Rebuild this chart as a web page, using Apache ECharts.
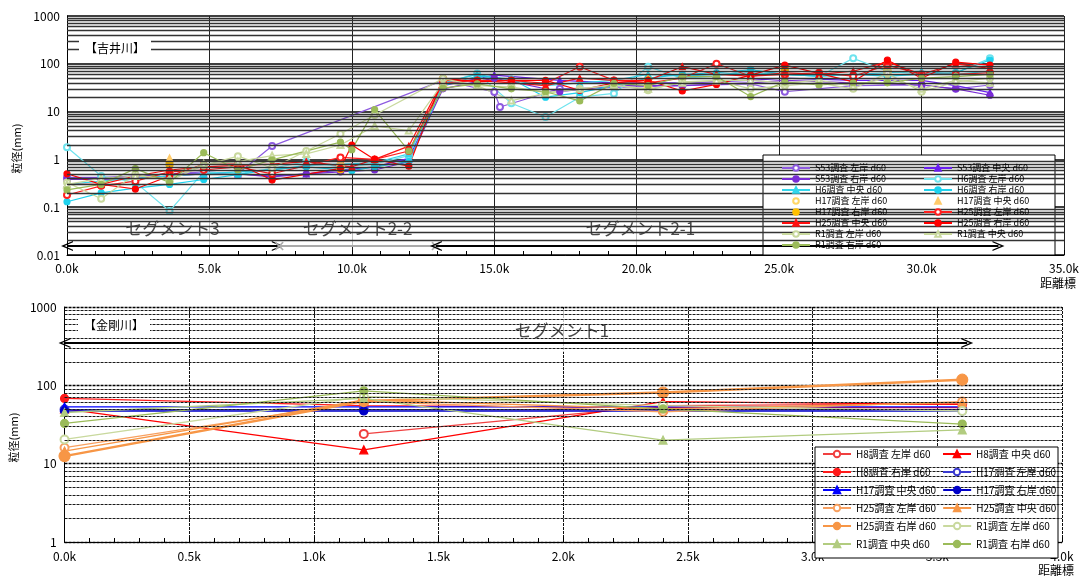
<!DOCTYPE html>
<html>
<head>
<meta charset="utf-8">
<script src="https://cdn.jsdelivr.net/npm/echarts@6/dist/echarts.min.js"></script>
<style>
  html, body { margin: 0; padding: 0; background: #fff; }
  #chart { width: 1082px; height: 578px; }
</style>
</head>
<body>
<div id="chart"></div>
<script>
// ---------- 吉井川 (upper panel) ----------
// survey stations, distance in metres
const yoshiiKm = [0, 1200, 2400, 3600, 4800, 6000, 7200, 8400, 9600, 10000, 10800, 12000,
  13200, 14400, 15600, 16800, 18000, 19200, 20400, 21600, 22800, 24000, 25200, 26400,
  27600, 28800, 30000, 31200, 32400];
// S53 survey used its own station set
const s53Km = [0, 1200, 2400, 3600, 4800, 6000, 7200, 8400, 9600, 10800, 12000, 13200,
  15000, 15200, 17300, 19200, 21600, 24000, 25200, 27600, 30000, 31200, 32400];

// d60 (mm)
const s53Left  = [0.42, 0.42, 0.45, 0.5, 0.55, 0.5, 1.9, null, null, null, null, 45, 25.7, 12.5, 30, 32, 35, 38, 26, 35, 36, 30, 36];
const s53Mid   = [0.4, 0.4, 0.45, 0.5, 0.5, 0.5, 0.45, 0.5, 0.6, 0.7, 1.05, 35, 58, null, 45, 40, 40, 45, 50, 45, 45, 35, 25];
const s53Right = [0.38, 0.38, 0.4, 0.45, 0.5, 0.5, 0.43, 0.5, 0.55, 0.6, 0.9, 30, 50, null, 26, 35, 35, 40, 45, 40, 36, 30, 22];

const h6Left  = [1.8, 0.45, 0.33, 0.083, 0.55, 0.5, 0.65, 0.9, 0.7, null, 0.8, 1.2, 38, 63, 15, 7.7, 20, 24, 87, 50, 55, 75, 60, 55, 130, 70, 60, 65, 130];
const h6Mid   = [0.3, 0.35, 0.4, 0.45, 0.5, 0.55, 0.6, 0.75, 0.8, null, 0.85, 1.3, 40, 60, 45, 35, 40, 45, 60, 55, 60, 65, 60, 55, 60, 65, 70, 60, 70];
const h6Right = [0.13, 0.2, 0.25, 0.3, 0.38, 0.48, 0.62, 0.7, null, 0.58, 0.7, 0.9, 35, 55, 48, 20, 25, 35, 50, 60, 65, 75, 60, 55, 60, 55, 60, 65, 120];

const h17Left  = [null, null, null, 0.55, null, null, null, null, 0.75, null, null, null, 48, null, null, null, null, null, 32, null, null, null, 60, null, null, 70, null, null, null];
const h17Mid   = [null, null, null, 1.05, null, null, null, null, 0.85, null, null, null, 42, null, null, null, null, null, 50, null, null, null, 85, null, null, 100, null, null, null];
const h17Right = [null, null, null, 0.78, null, null, null, null, 0.62, null, null, null, 36, null, null, null, null, null, 45, null, null, null, 78, null, null, 92, null, null, null];

const h25Left  = [0.18, 0.28, 0.35, 0.55, 0.6, 0.7, 0.5, null, 1.1, null, 1.0, 1.5, 40, 45, 45, 39, 87, 45, 40, 50, 100, 55, 60, 65, 55, 94, 60, 60, 65];
const h25Mid   = [0.3, 0.3, 0.45, 0.6, 0.7, 0.75, 0.8, 0.9, null, 0.7, 1.0, 1.9, 45, 45, 40, 35, 50, 45, 45, 87, 60, 55, 65, 60, 70, 110, 60, 100, 80];
const h25Right = [0.5, 0.3, 0.24, 0.45, 0.79, 0.8, 0.37, null, 0.65, 2.0, 1.0, 0.72, 50, 42, 45, 45, 28, 40, 45, 27, 37, 58, 94, 63, 42, 120, 50, 108, 94];

const r1Left  = [0.33, 0.15, 0.49, 0.36, 0.75, 1.17, 0.66, 1.5, 3.4, null, 8.5, null, 49, 35, 33, 25, 30, 36, 28, 42, 45, 30, 35, 40, 30, 63, 26, 42, 50];
const r1Mid   = [0.3, 0.4, 0.45, 0.4, 0.8, 0.9, 1.2, 1.3, 2.0, null, 5.0, 4.0, 40, 35, 17, 24, 30, 36, 30, 40, 45, 45, 40, 45, 35, 50, 30, 45, 40];
const r1Right = [0.23, 0.3, 0.64, 0.33, 1.38, 0.6, 0.98, null, 2.3, 1.6, 11, 1.5, 31, 38, 30, 26, 16.7, 39, 35, 54, 54, 20.6, 42, 36, 40, 40, 50, 54, 60];

// ---------- 金剛川 (lower panel) ----------
const kongoKm = [0, 1200, 2400, 3600];
const kH8Left   = [null, 24, 55, 58];
const kH8Mid    = [50, 15, 62, 57];
const kH8Right  = [68, 55, 52, 52];
const kH17Left  = [49, 49, 49, 49];
const kH17Mid   = [53, 53, 53, 53];
const kH17Right = [47, 47, 47, 47];
const kH25Left  = [16, 62, 46, 62];
const kH25Mid   = [14.5, 65, 50, 60];
const kH25Right = [12.5, 63, 81, 118];
const kR1Left   = [20.4, 72, 55, 47];
const kR1Mid    = [45, 68, 20, 27];
const kR1Right  = [32.6, 85, 50, 32];

// axis ranges and tick labels
const topYDecades = [0.01, 0.1, 1, 10, 100];
const botYDecades = [1, 10, 100];
const kmLabel = v => (v / 1000).toFixed(1) + 'k';
const logLabel = v => v < 1 ? v.toFixed(Math.round(-Math.log10(v))) : String(Math.round(v));

// segment annotations: [label, x-start, x-end]
const yoshiiSegments = [['セグメント3', 1150, 6250], ['セグメント2-2', 7450, 12950], ['セグメント2-1', 17400, 22850]];
const kongoSegments = [['セグメント1', 1720, 2270]];

const FONT = '"Noto Sans CJK JP", "Noto Sans", sans-serif';
const chevron = 'path://M0,12 L6,0 L12,12 L10.5,12 L6,3.5 L1.5,12 Z';
const cross = 'path://M0,1.5 L1.5,0 L6,4.5 L10.5,0 L12,1.5 L7.5,6 L12,10.5 L10.5,12 L6,7.5 L1.5,12 L0,10.5 L4.5,6 Z';

function pairs(xs, ys) {
  return xs.map((x, i) => [x, ys[i]]).filter(p => p[1] != null);
}
function lineSeries(name, xs, ys, color, symbol, panel, extra) {
  const s = {
    type: 'line', name: name, xAxisIndex: panel, yAxisIndex: panel,
    data: pairs(xs, ys), symbol: symbol,
    symbolSize: panel === 0 ? 6 : 8,
    lineStyle: { color: color, width: panel === 0 ? 1.2 : 1.3 },
    itemStyle: { color: color, borderColor: color, borderWidth: 1.2 },
    z: 2, animation: false, connectNulls: true
  };
  return Object.assign(s, extra || {});
}
// H17 on 吉井川 is plotted as markers only
function markerSeries(name, xs, ys, color, symbol) {
  return lineSeries(name, xs, ys, color, symbol, 0,
    { symbolSize: 7, lineStyle: { color: color, width: 1, opacity: 0 } });
}
function minorGrid(decades) {
  const vals = [];
  decades.forEach(d => { for (let m = 2; m <= 9; m++) vals.push(m * d); });
  return vals;
}
function gridLineSeries(panel, decades, lineStyle) {
  return {
    type: 'line', xAxisIndex: panel, yAxisIndex: panel, data: [], z: 1, silent: true,
    animation: false,
    markLine: {
      silent: true, symbol: 'none', label: { show: false }, animation: false,
      lineStyle: lineStyle,
      data: minorGrid(decades).map(v => ({ yAxis: v }))
    }
  };
}
function segmentSeries(panel, segs, yLow, yHigh, arrows) {
  return {
    type: 'line', xAxisIndex: panel, yAxisIndex: panel, data: [], z: 4, silent: true,
    animation: false,
    markArea: {
      silent: true,
      itemStyle: { color: 'rgba(255,255,255,0.72)' },
      label: { show: true, position: 'inside', color: '#4a4a4a', fontSize: 17, fontFamily: FONT },
      data: segs.map(s => [{ name: s[0], coord: [s[1], yLow] }, { coord: [s[2], yHigh] }])
    },
    markLine: {
      silent: true, animation: false, label: { show: false },
      symbol: [chevron, chevron], symbolSize: [10, 12],
      lineStyle: { color: '#000', width: 2, type: 'solid' },
      data: arrows
    }
  };
}

const K = 'K|';
const option = {
  animation: false,
  textStyle: { fontFamily: FONT },
  title: [
    { text: '【吉井川】', left: 79, top: 40, padding: [2, 6, 2, 6], backgroundColor: '#fff',
      textStyle: { fontSize: 12, fontWeight: 'normal', color: '#000', fontFamily: FONT } },
    { text: '【金剛川】', left: 78, top: 316, padding: [3, 6, 3, 6], backgroundColor: '#fff',
      textStyle: { fontSize: 12, fontWeight: 'normal', color: '#000', fontFamily: FONT } }
  ],
  grid: [
    { left: 67, top: 16, width: 997, height: 239 },
    { left: 64, top: 307, width: 998, height: 235 }
  ],
  xAxis: [
    { gridIndex: 0, type: 'value', min: 0, max: 35000, interval: 5000,
      axisLine: { onZero: false, lineStyle: { color: '#000' } },
      axisTick: { inside: true, length: 5, lineStyle: { color: '#000' } },
      minorTick: { show: true, splitNumber: 5, length: 4, lineStyle: { color: '#000' } },
      splitLine: { show: true, lineStyle: { color: '#222', width: 1 } },
      axisLabel: { formatter: kmLabel, color: '#000', fontSize: 12, margin: 7 },
      name: '距離標', nameLocation: 'end', nameGap: 12,
      nameTextStyle: { align: 'right', verticalAlign: 'top', padding: [22, 0, 0, 0], fontSize: 12, color: '#000' } },
    { gridIndex: 1, type: 'value', min: 0, max: 4000, interval: 500,
      axisLine: { onZero: false, lineStyle: { color: '#000' } },
      axisTick: { inside: true, length: 5, lineStyle: { color: '#000' } },
      minorTick: { show: true, splitNumber: 5, length: 4, lineStyle: { color: '#000' } },
      splitLine: { show: true, lineStyle: { color: '#111', width: 1, type: [3, 1] } },
      axisLabel: { formatter: kmLabel, color: '#000', fontSize: 12, margin: 8 },
      name: '距離標', nameLocation: 'end', nameGap: 12,
      nameTextStyle: { align: 'right', verticalAlign: 'top', padding: [22, 0, 0, 0], fontSize: 12, color: '#000' } }
  ],
  yAxis: [
    { gridIndex: 0, type: 'log', logBase: 10, min: 0.01, max: 1000,
      axisLine: { show: true, onZero: false, lineStyle: { color: '#000' } },
      axisTick: { show: false },
      splitLine: { show: true, lineStyle: { color: '#000', width: 1.5 } },
      axisLabel: { formatter: logLabel, color: '#000', fontSize: 12, margin: 7 },
      name: '粒径(mm)', nameLocation: 'middle', nameGap: 40,
      nameTextStyle: { fontSize: 11, color: '#000', padding: [0, 26, 0, 0] } },
    { gridIndex: 1, type: 'log', logBase: 10, min: 1, max: 1000,
      axisLine: { show: true, onZero: false, lineStyle: { color: '#000' } },
      axisTick: { show: false },
      splitLine: { show: true, lineStyle: { color: '#000', width: 1.3, type: [3, 1] } },
      axisLabel: { formatter: logLabel, color: '#000', fontSize: 12, margin: 8 },
      name: '粒径(mm)', nameLocation: 'middle', nameGap: 36,
      nameTextStyle: { fontSize: 11, color: '#000', padding: [0, 26, 0, 0] } }
  ],
  legend: [
    { left: 776, top: 158, width: 300, orient: 'horizontal', selectedMode: false, z: 6,
      itemWidth: 28, itemHeight: 7, itemGap: 1,
      textStyle: { fontSize: 9, lineHeight: 10, width: 107, color: '#000', fontFamily: FONT },
      data: ['S53調査 左岸 d60', 'S53調査 中央 d60', 'S53調査 右岸 d60', 'H6調査 左岸 d60',
        'H6調査 中央 d60', 'H6調査 右岸 d60', 'H17調査 左岸 d60', 'H17調査 中央 d60',
        'H17調査 右岸 d60', 'H25調査 左岸 d60', 'H25調査 中央 d60', 'H25調査 右岸 d60',
        'R1調査 左岸 d60', 'R1調査 中央 d60', 'R1調査 右岸 d60'] },
    { left: 817, top: 443, width: 260, orient: 'horizontal', selectedMode: false, z: 6,
      itemWidth: 28, itemHeight: 8, itemGap: 6,
      formatter: n => n.replace(K, ''),
      textStyle: { fontSize: 10, lineHeight: 12, width: 80, color: '#000', fontFamily: FONT },
      data: ['H8調査 左岸 d60', 'H8調査 中央 d60', 'H8調査 右岸 d60', 'H17調査 左岸 d60',
        'H17調査 中央 d60', 'H17調査 右岸 d60', 'H25調査 左岸 d60', 'H25調査 中央 d60',
        'H25調査 右岸 d60', 'R1調査 左岸 d60', 'R1調査 中央 d60', 'R1調査 右岸 d60'].map(n => K + n) }
  ],
  graphic: [
    { type: 'rect', z: 3, silent: true, shape: { x: 763, y: 155, width: 292, height: 100 },
      style: { fill: '#fff', stroke: '#000', lineWidth: 1 } },
    { type: 'rect', z: 3, silent: true, shape: { x: 815, y: 447, width: 243, height: 111 },
      style: { fill: '#fff', stroke: '#000', lineWidth: 1 } }
  ],
  series: [
    gridLineSeries(0, topYDecades, { color: '#333', width: 1.3, type: 'solid' }),
    gridLineSeries(1, botYDecades, { color: '#1a1a1a', width: 1.1, type: [3, 1] }),

    lineSeries('S53調査 左岸 d60', s53Km, s53Left, '#8E5BE0', 'emptyCircle', 0),
    lineSeries('S53調査 中央 d60', s53Km, s53Mid, '#6A1FF0', 'triangle', 0),
    lineSeries('S53調査 右岸 d60', s53Km, s53Right, '#7A2CD6', 'circle', 0),
    lineSeries('H6調査 左岸 d60', yoshiiKm, h6Left, '#6FE3EE', 'emptyCircle', 0),
    lineSeries('H6調査 中央 d60', yoshiiKm, h6Mid, '#33D6EC', 'triangle', 0),
    lineSeries('H6調査 右岸 d60', yoshiiKm, h6Right, '#1ED2EE', 'circle', 0),
    markerSeries('H17調査 左岸 d60', yoshiiKm, h17Left, '#FFD766', 'emptyCircle'),
    markerSeries('H17調査 中央 d60', yoshiiKm, h17Mid, '#FFCB6B', 'triangle'),
    markerSeries('H17調査 右岸 d60', yoshiiKm, h17Right, '#FFC000', 'circle'),
    lineSeries('H25調査 左岸 d60', yoshiiKm, h25Left, '#FF2020', 'emptyCircle', 0),
    lineSeries('H25調査 中央 d60', yoshiiKm, h25Mid, '#FF1010', 'triangle', 0),
    lineSeries('H25調査 右岸 d60', yoshiiKm, h25Right, '#FF0000', 'circle', 0),
    lineSeries('R1調査 左岸 d60', yoshiiKm, r1Left, '#C9D99E', 'emptyCircle', 0),
    lineSeries('R1調査 中央 d60', yoshiiKm, r1Mid, '#C9D99E', 'emptyTriangle', 0),
    lineSeries('R1調査 右岸 d60', yoshiiKm, r1Right, '#9BBB59', 'circle', 0),

    lineSeries(K + 'H8調査 左岸 d60', kongoKm, kH8Left, '#F04040', 'emptyCircle', 1),
    lineSeries(K + 'H8調査 中央 d60', kongoKm, kH8Mid, '#FF0000', 'triangle', 1),
    lineSeries(K + 'H8調査 右岸 d60', kongoKm, kH8Right, '#FF1A1A', 'circle', 1),
    lineSeries(K + 'H17調査 左岸 d60', kongoKm, kH17Left, '#3A3AD0', 'emptyCircle', 1),
    lineSeries(K + 'H17調査 中央 d60', kongoKm, kH17Mid, '#0000FF', 'triangle', 1),
    lineSeries(K + 'H17調査 右岸 d60', kongoKm, kH17Right, '#0000C8', 'circle', 1),
    lineSeries(K + 'H25調査 左岸 d60', kongoKm, kH25Left, '#F8A060', 'emptyCircle', 1),
    lineSeries(K + 'H25調査 中央 d60', kongoKm, kH25Mid, '#F79646', 'triangle', 1),
    lineSeries(K + 'H25調査 右岸 d60', kongoKm, kH25Right, '#F79646', 'circle', 1,
      { symbolSize: 11, lineStyle: { color: '#F79646', width: 2.4 } }),
    lineSeries(K + 'R1調査 左岸 d60', kongoKm, kR1Left, '#C9D99E', 'emptyCircle', 1),
    lineSeries(K + 'R1調査 中央 d60', kongoKm, kR1Mid, '#B2CC80', 'triangle', 1),
    lineSeries(K + 'R1調査 右岸 d60', kongoKm, kR1Right, '#9BBB59', 'circle', 1),

    segmentSeries(0, yoshiiSegments, 0.0147, 0.087, [
      [{ coord: [0, 0.0154] }, { coord: [7400, 0.0154] }],
      [{ coord: [7450, 0.0154], symbol: cross, symbolSize: 9, lineStyle: { color: '#aaa', width: 2 } },
       { coord: [12950, 0.0154], symbol: cross, symbolSize: 9 }],
      [{ coord: [12950, 0.0154] }, { coord: [32700, 0.0154] }]
    ]),
    segmentSeries(1, kongoSegments, 267, 943, [
      [{ coord: [0, 348] }, { coord: [3620, 348] }]
    ])
  ]
};

const chart = echarts.init(document.getElementById('chart'), null, { renderer: 'canvas' });
chart.setOption(option);
</script>
</body>
</html>
